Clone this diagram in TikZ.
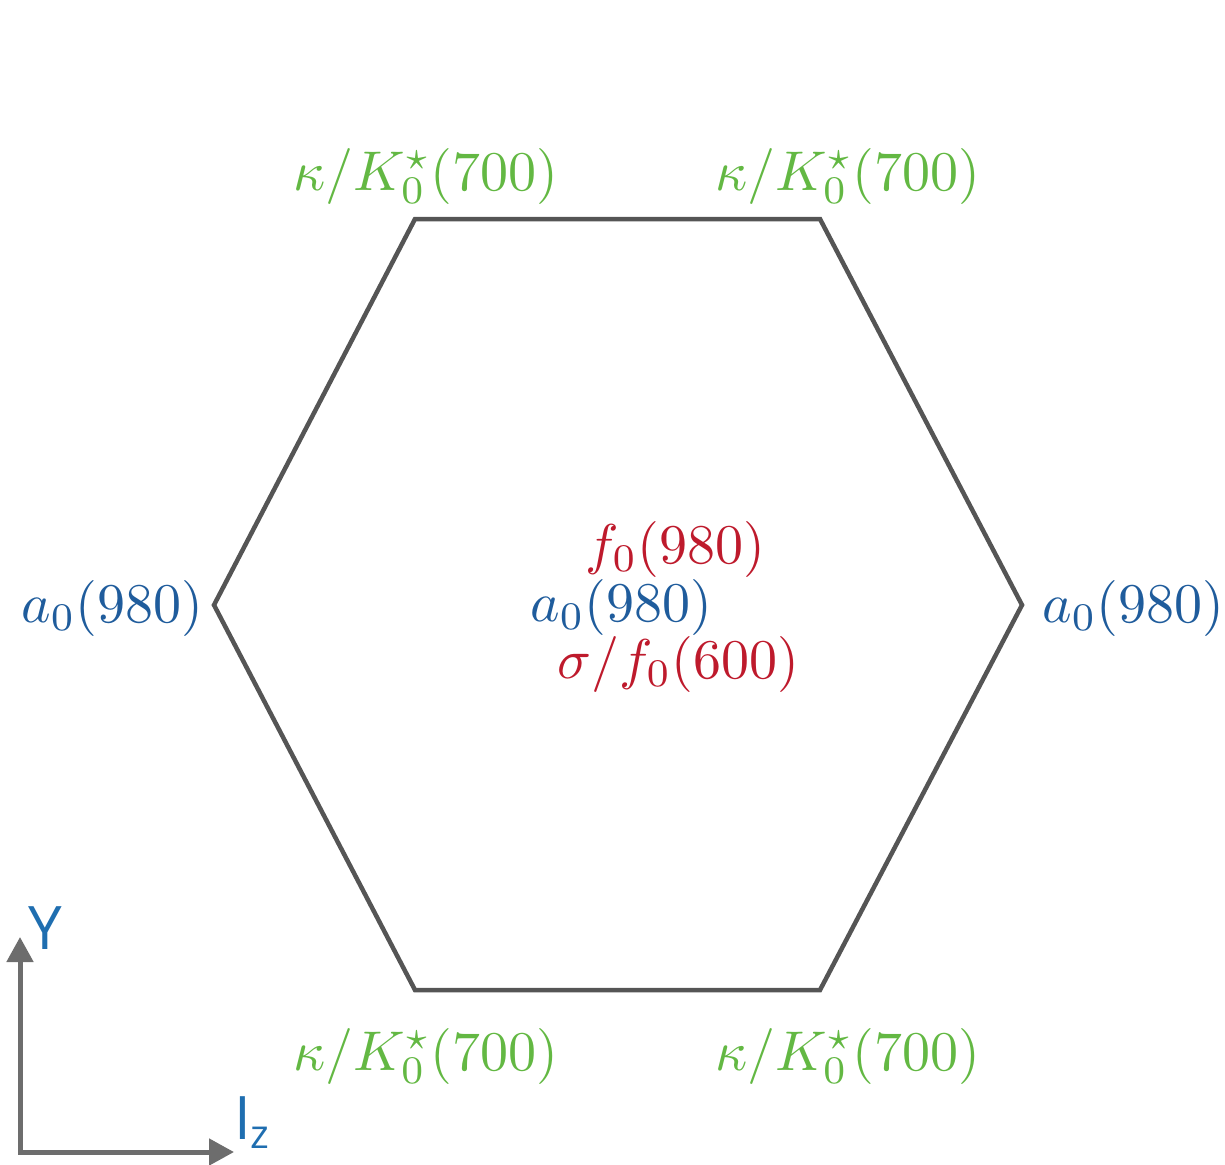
\documentclass[tikz,border=0pt]{standalone}
\usepackage{graphicx}
\usepackage{fontspec}
\setsansfont{Open Sans}
\usetikzlibrary{arrows.meta}
\definecolor{hexgray}{HTML}{555555}
\definecolor{axgray}{HTML}{6D6D6D}
\definecolor{kgreen}{HTML}{63B843}
\definecolor{ablue}{HTML}{1F5C9C}
\definecolor{fred}{HTML}{BE1A2C}
\definecolor{lblue}{HTML}{1F6EB0}
\newcommand{\hexlab}[1]{\scalebox{5.6}{$#1$}}
\tikzset{
  lab/.style={inner sep=0pt, anchor=base west},
  grn/.style={lab, text=kgreen},
  blu/.style={lab, text=ablue},
  rd/.style={lab, text=fred},
  hexline/.style={draw=hexgray, line width=4.5pt, line join=miter},
  axis/.style={draw=axgray, line width=5pt, line join=miter, {Triangle[length=25pt,width=26pt]}-{Triangle[length=25pt,width=26pt]}},
  axlab/.style={inner sep=0pt, anchor=base west, text=lblue, font=\sffamily\fontsize{60}{66}\selectfont}
}
\begin{document}
\begin{tikzpicture}[x=1pt,y=-1pt]
\useasboundingbox (0,0) rectangle (1225,1164);
% hexagon vertices
\coordinate (tl) at (415,219);
\coordinate (tr) at (820,219);
\coordinate (r) at (1022,605);
\coordinate (br) at (820,990);
\coordinate (bl) at (415,990);
\coordinate (l) at (214,605);
\draw[hexline] (tl) -- (tr) -- (r) -- (br) -- (bl) -- (l) -- cycle;
% corner labels
\node[grn] (ktl) at (293,190) {\hexlab{\kappa/K_0^\star(700)}};
\node[grn] (ktr) at (715,190) {\hexlab{\kappa/K_0^\star(700)}};
\node[grn] (kbl) at (293,1070) {\hexlab{\kappa/K_0^\star(700)}};
\node[grn] (kbr) at (715,1070) {\hexlab{\kappa/K_0^\star(700)}};
\node[blu] (al) at (21,622) {\hexlab{a_0(980)}};
\node[blu] (ar) at (1042,622) {\hexlab{a_0(980)}};
% centre labels
\node[rd] (fc) at (585,563) {\hexlab{f_0(980)}};
\node[blu] (ac) at (530,621) {\hexlab{a_0(980)}};
\node[rd] (sc) at (557,678) {\hexlab{\sigma/f_0(600)}};
% axes
\coordinate (o) at (20,1152);
\coordinate (ytip) at (20,937);
\coordinate (xtip) at (234,1152);
\draw[axis] (ytip) -- (o) -- (xtip);
\node[axlab] (ylab) at (28,949) {Y};
\node[axlab] (izlab) at (234,1139) {I\raisebox{-9pt}{\fontsize{40}{44}\selectfont z}};
\end{tikzpicture}
\end{document}
